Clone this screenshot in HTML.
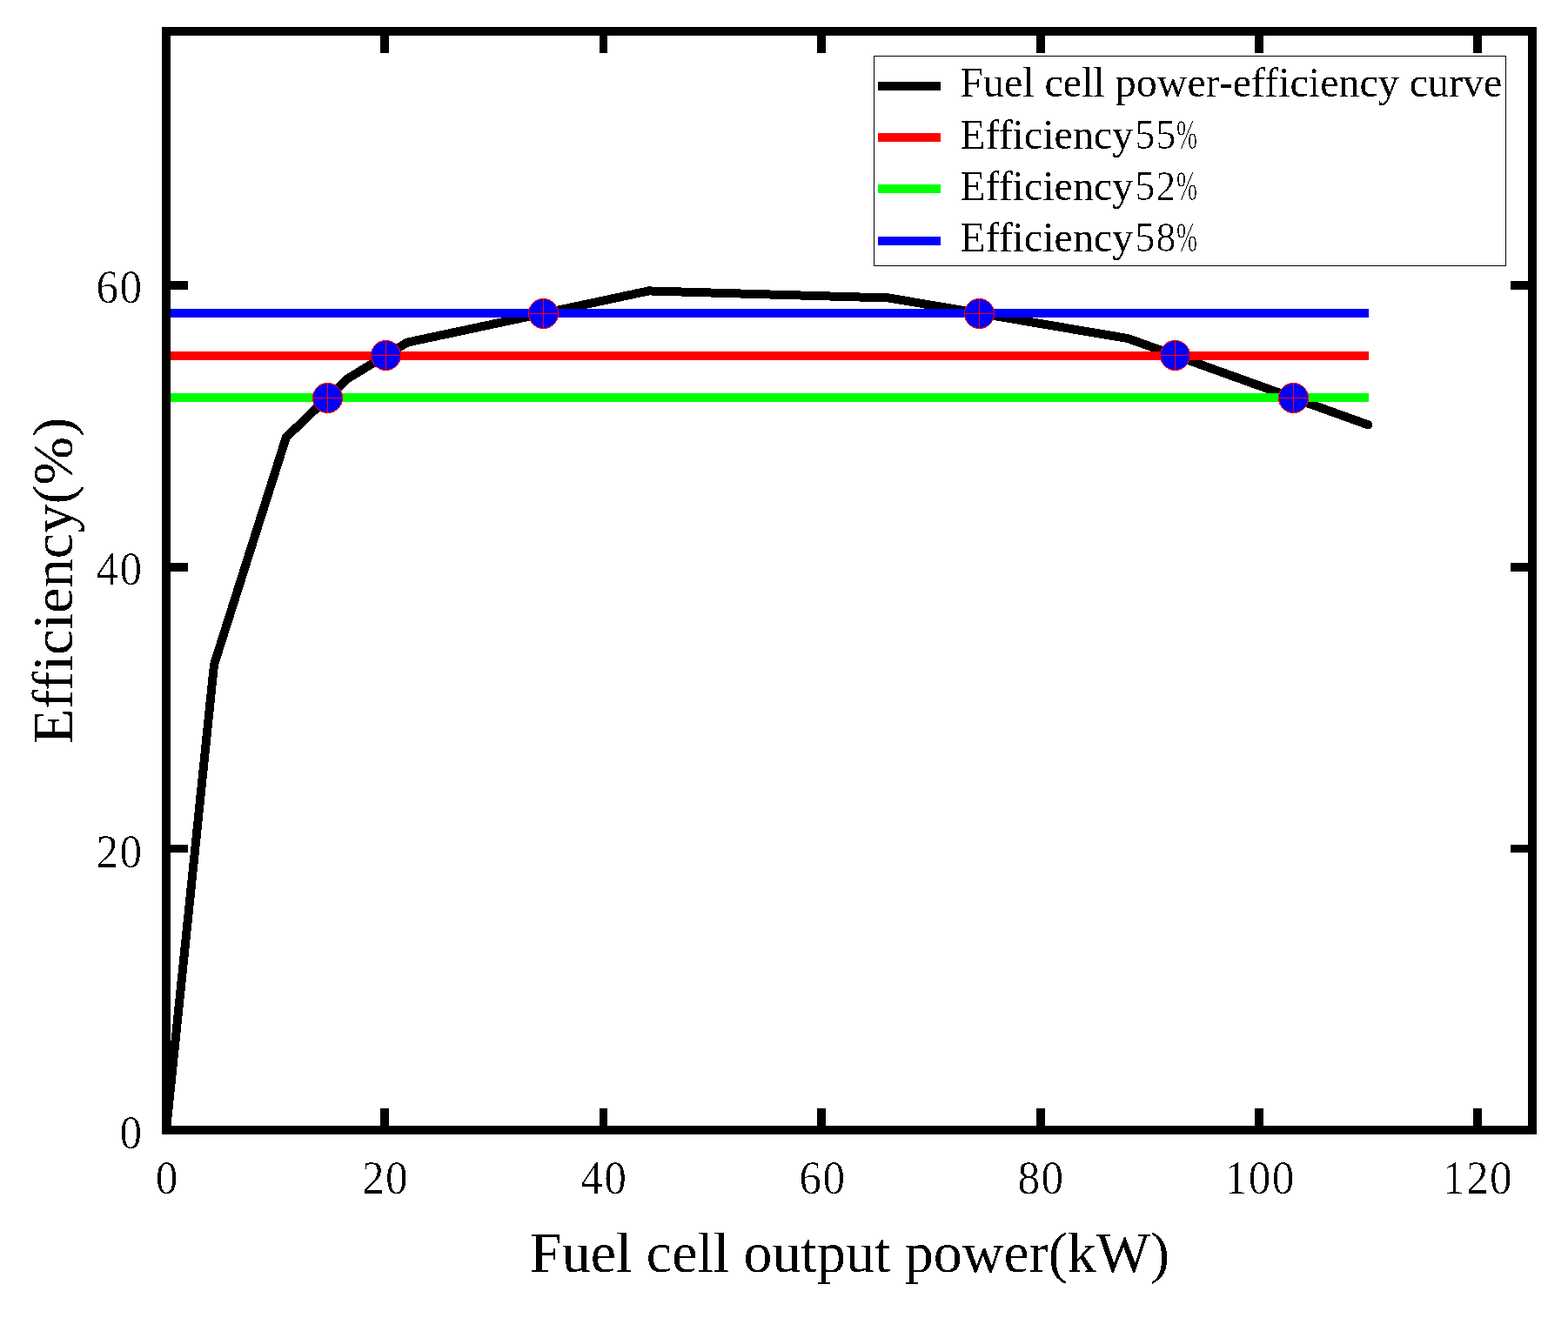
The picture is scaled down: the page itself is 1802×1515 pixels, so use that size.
<!DOCTYPE html>
<html><head><meta charset="utf-8"><title>Fuel cell power-efficiency</title>
<style>html,body{margin:0;padding:0;background:#fff;}svg{display:block;}</style>
</head><body>
<svg width="1802" height="1515" viewBox="0 0 1802 1515">
<rect x="0" y="0" width="1802" height="1515" fill="#fff"/>
<defs><filter id="al" x="0" y="0" width="100%" height="100%" filterUnits="userSpaceOnUse"><feComponentTransfer><feFuncA type="discrete" tableValues="0 1"/></feComponentTransfer></filter><filter id="th" x="0" y="0" width="100%" height="100%" filterUnits="userSpaceOnUse"><feComponentTransfer><feFuncA type="discrete" tableValues="0 0 0 1"/></feComponentTransfer></filter></defs>
<path d="M191,1299 L246,764 L328.9,502.6 L399.4,435.3 L468,393.6 L745.5,334.4 L1021.5,342.5 L1296.4,389.1 L1572.5,488.4" fill="none" stroke="#000" stroke-width="10" stroke-linejoin="miter" stroke-linecap="round" shape-rendering="crispEdges"/>
<g shape-rendering="crispEdges">
<rect x="191" y="404" width="1382" height="10" fill="#ff0000"/>
<rect x="191" y="452" width="1382" height="10" fill="#00ff00"/>
<rect x="191" y="355" width="1382" height="10" fill="#0000ff"/>
</g>
<g shape-rendering="crispEdges">
<circle cx="376.5" cy="457.5" r="17" fill="#0000ff" stroke="#ff0000" stroke-width="1"/>
<rect x="376" y="440" width="1" height="35" fill="#ff0000"/>
<rect x="359" y="457" width="35" height="1" fill="#ff0000"/>
<circle cx="443.5" cy="408.5" r="17" fill="#0000ff" stroke="#ff0000" stroke-width="1"/>
<rect x="443" y="391" width="1" height="35" fill="#ff0000"/>
<rect x="426" y="408" width="35" height="1" fill="#ff0000"/>
<circle cx="624.5" cy="360.5" r="17" fill="#0000ff" stroke="#ff0000" stroke-width="1"/>
<rect x="624" y="343" width="1" height="35" fill="#ff0000"/>
<rect x="607" y="360" width="35" height="1" fill="#ff0000"/>
<circle cx="1125.5" cy="360.5" r="17" fill="#0000ff" stroke="#ff0000" stroke-width="1"/>
<rect x="1125" y="343" width="1" height="35" fill="#ff0000"/>
<rect x="1108" y="360" width="35" height="1" fill="#ff0000"/>
<circle cx="1350.5" cy="408.5" r="17" fill="#0000ff" stroke="#ff0000" stroke-width="1"/>
<rect x="1350" y="391" width="1" height="35" fill="#ff0000"/>
<rect x="1333" y="408" width="35" height="1" fill="#ff0000"/>
<circle cx="1486.5" cy="457.5" r="17" fill="#0000ff" stroke="#ff0000" stroke-width="1"/>
<rect x="1486" y="440" width="1" height="35" fill="#ff0000"/>
<rect x="1469" y="457" width="35" height="1" fill="#ff0000"/>
</g>
<g fill="#000" shape-rendering="crispEdges">
<rect x="186" y="31" width="1580" height="10"/>
<rect x="186" y="1294" width="1580" height="10"/>
<rect x="186" y="31" width="10" height="1273"/>
<rect x="1756" y="31" width="10" height="1273"/>
<rect x="437" y="1274" width="10" height="20"/>
<rect x="437" y="41" width="10" height="20"/>
<rect x="689" y="1274" width="9" height="20"/>
<rect x="689" y="41" width="9" height="20"/>
<rect x="939" y="1274" width="10" height="20"/>
<rect x="939" y="41" width="10" height="20"/>
<rect x="1191" y="1274" width="10" height="20"/>
<rect x="1191" y="41" width="10" height="20"/>
<rect x="1442" y="1274" width="10" height="20"/>
<rect x="1442" y="41" width="10" height="20"/>
<rect x="1693" y="1274" width="10" height="20"/>
<rect x="1693" y="41" width="10" height="20"/>
<rect x="196" y="971" width="20" height="9"/>
<rect x="1736" y="971" width="20" height="9"/>
<rect x="196" y="647" width="20" height="10"/>
<rect x="1736" y="647" width="20" height="10"/>
<rect x="196" y="323" width="20" height="10"/>
<rect x="1736" y="323" width="20" height="10"/>
</g>
<rect x="1004.5" y="64.5" width="726" height="241" fill="#fff" stroke="#000" stroke-width="1" shape-rendering="crispEdges"/>
<g shape-rendering="crispEdges">
<rect x="1009" y="94" width="72" height="9.5" fill="#000"/>
<rect x="1009" y="153" width="72" height="9.5" fill="#ff0000"/>
<rect x="1009" y="212" width="72" height="9.5" fill="#00ff00"/>
<rect x="1009" y="272" width="72" height="9.5" fill="#0000ff"/>
</g>
<g filter="url(#al)">
<text x="1103.2" y="111.3" style="font-family:'Liberation Serif','Noto Serif CJK SC',serif;font-size:48px">Fuel cell power-efficiency curve</text>
<text x="1103.2" y="171.0" style="font-family:'Liberation Serif','Noto Serif CJK SC',serif;font-size:48px">Efficiency</text>
<text x="1103.2" y="229.8" style="font-family:'Liberation Serif','Noto Serif CJK SC',serif;font-size:48px">Efficiency</text>
<text x="1103.2" y="289.0" style="font-family:'Liberation Serif','Noto Serif CJK SC',serif;font-size:48px">Efficiency</text>
</g><g filter="url(#th)">
<text transform="translate(1316.00,171.0) scale(0.95,1)" text-anchor="middle" style="font-family:'Liberation Serif','Noto Serif CJK SC',serif;font-size:48px">5</text>
<text transform="translate(1340.00,171.0) scale(0.95,1)" text-anchor="middle" style="font-family:'Liberation Serif','Noto Serif CJK SC',serif;font-size:48px">5</text>
<text transform="translate(1364.00,171.0) scale(0.6,1)" text-anchor="middle" style="font-family:'Liberation Serif','Noto Serif CJK SC',serif;font-size:48px">%</text>
<text transform="translate(1316.00,229.8) scale(0.95,1)" text-anchor="middle" style="font-family:'Liberation Serif','Noto Serif CJK SC',serif;font-size:48px">5</text>
<text transform="translate(1340.00,229.8) scale(0.95,1)" text-anchor="middle" style="font-family:'Liberation Serif','Noto Serif CJK SC',serif;font-size:48px">2</text>
<text transform="translate(1364.00,229.8) scale(0.6,1)" text-anchor="middle" style="font-family:'Liberation Serif','Noto Serif CJK SC',serif;font-size:48px">%</text>
<text transform="translate(1316.00,289.0) scale(0.95,1)" text-anchor="middle" style="font-family:'Liberation Serif','Noto Serif CJK SC',serif;font-size:48px">5</text>
<text transform="translate(1340.00,289.0) scale(0.95,1)" text-anchor="middle" style="font-family:'Liberation Serif','Noto Serif CJK SC',serif;font-size:48px">8</text>
<text transform="translate(1364.00,289.0) scale(0.6,1)" text-anchor="middle" style="font-family:'Liberation Serif','Noto Serif CJK SC',serif;font-size:48px">%</text>
<text transform="translate(191.50,1372) scale(0.95,1)" text-anchor="middle" style="font-family:'Liberation Serif','Noto Serif CJK SC',serif;font-size:54px">0</text>
<text transform="translate(428.80,1372) scale(0.95,1)" text-anchor="middle" style="font-family:'Liberation Serif','Noto Serif CJK SC',serif;font-size:54px">2</text>
<text transform="translate(455.80,1372) scale(0.95,1)" text-anchor="middle" style="font-family:'Liberation Serif','Noto Serif CJK SC',serif;font-size:54px">0</text>
<text transform="translate(680.00,1372) scale(0.95,1)" text-anchor="middle" style="font-family:'Liberation Serif','Noto Serif CJK SC',serif;font-size:54px">4</text>
<text transform="translate(707.00,1372) scale(0.95,1)" text-anchor="middle" style="font-family:'Liberation Serif','Noto Serif CJK SC',serif;font-size:54px">0</text>
<text transform="translate(931.30,1372) scale(0.95,1)" text-anchor="middle" style="font-family:'Liberation Serif','Noto Serif CJK SC',serif;font-size:54px">6</text>
<text transform="translate(958.30,1372) scale(0.95,1)" text-anchor="middle" style="font-family:'Liberation Serif','Noto Serif CJK SC',serif;font-size:54px">0</text>
<text transform="translate(1182.20,1372) scale(0.95,1)" text-anchor="middle" style="font-family:'Liberation Serif','Noto Serif CJK SC',serif;font-size:54px">8</text>
<text transform="translate(1209.20,1372) scale(0.95,1)" text-anchor="middle" style="font-family:'Liberation Serif','Noto Serif CJK SC',serif;font-size:54px">0</text>
<text transform="translate(1420.50,1372) scale(0.95,1)" text-anchor="middle" style="font-family:'Liberation Serif','Noto Serif CJK SC',serif;font-size:54px">1</text>
<text transform="translate(1447.50,1372) scale(0.95,1)" text-anchor="middle" style="font-family:'Liberation Serif','Noto Serif CJK SC',serif;font-size:54px">0</text>
<text transform="translate(1474.50,1372) scale(0.95,1)" text-anchor="middle" style="font-family:'Liberation Serif','Noto Serif CJK SC',serif;font-size:54px">0</text>
<text transform="translate(1670.90,1372) scale(0.95,1)" text-anchor="middle" style="font-family:'Liberation Serif','Noto Serif CJK SC',serif;font-size:54px">1</text>
<text transform="translate(1697.90,1372) scale(0.95,1)" text-anchor="middle" style="font-family:'Liberation Serif','Noto Serif CJK SC',serif;font-size:54px">2</text>
<text transform="translate(1724.90,1372) scale(0.95,1)" text-anchor="middle" style="font-family:'Liberation Serif','Noto Serif CJK SC',serif;font-size:54px">0</text>
<text transform="translate(150.30,1320.4) scale(0.95,1)" text-anchor="middle" style="font-family:'Liberation Serif','Noto Serif CJK SC',serif;font-size:54px">0</text>
<text transform="translate(123.30,996.9) scale(0.95,1)" text-anchor="middle" style="font-family:'Liberation Serif','Noto Serif CJK SC',serif;font-size:54px">2</text>
<text transform="translate(150.30,996.9) scale(0.95,1)" text-anchor="middle" style="font-family:'Liberation Serif','Noto Serif CJK SC',serif;font-size:54px">0</text>
<text transform="translate(123.30,671.8) scale(0.95,1)" text-anchor="middle" style="font-family:'Liberation Serif','Noto Serif CJK SC',serif;font-size:54px">4</text>
<text transform="translate(150.30,671.8) scale(0.95,1)" text-anchor="middle" style="font-family:'Liberation Serif','Noto Serif CJK SC',serif;font-size:54px">0</text>
<text transform="translate(123.30,348.3) scale(0.95,1)" text-anchor="middle" style="font-family:'Liberation Serif','Noto Serif CJK SC',serif;font-size:54px">6</text>
<text transform="translate(150.30,348.3) scale(0.95,1)" text-anchor="middle" style="font-family:'Liberation Serif','Noto Serif CJK SC',serif;font-size:54px">0</text>
</g><g filter="url(#al)">
<text x="609" y="1461.8" style="font-family:'Liberation Serif','Noto Serif CJK SC',serif;font-size:66px">Fuel cell output power(kW)</text>
<text transform="translate(82.8,855.3) rotate(-90)" x="0" y="0" style="font-family:'Liberation Serif','Noto Serif CJK SC',serif;font-size:66.5px">Efficiency(%)</text>
</g>
</svg>
</body></html>
